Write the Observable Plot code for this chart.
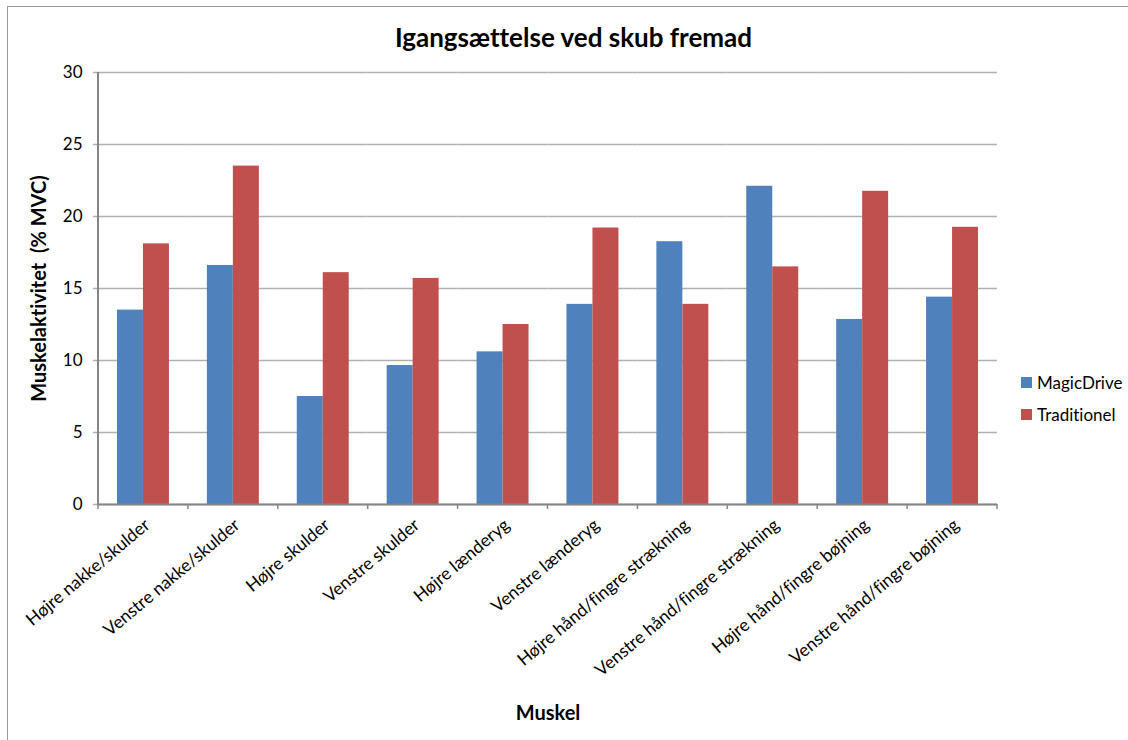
<!DOCTYPE html>
<html>
<head>
<meta charset="utf-8">
<script src="https://cdn.jsdelivr.net/npm/d3@7"></script>
<script src="https://cdn.jsdelivr.net/npm/@observablehq/plot@0.6"></script>
<style>
  body { margin: 0; background: #fff; font-family: Lato, "Open Sans", sans-serif; font-variant-ligatures: none; }
  #wrap { position: relative; width: 1128px; height: 740px; overflow: hidden; background: #fff; }
  #border { position: absolute; left: 7px; top: 6px; width: 1140px; height: 760px; border: 1px solid #9a9a9a; box-sizing: border-box; pointer-events: none; }
  #title { height: 60px; box-sizing: border-box; padding-top: 15px; padding-left: 19px; line-height: 44px; text-align: center; font-weight: bold; font-size: 26px; color: #000; }
  #chart svg { display: block; font-variant-ligatures: none; }
  #legend { position: absolute; left: 1021px; top: 366px; font-size: 17px; color: #000; }
  #legend .row { display: flex; align-items: center; height: 32.5px; }
  #legend .sw { width: 11px; height: 11px; margin-right: 5px; }
</style>
</head>
<body>
<div id="wrap">
  <div id="title">Igangsættelse ved skub fremad</div>
  <div id="chart"></div>
  <div id="legend"></div>
  <div id="border"></div>
</div>
<script>
const categories = [
  "Højre nakke/skulder",
  "Venstre nakke/skulder",
  "Højre skulder",
  "Venstre skulder",
  "Højre lænderyg",
  "Venstre lænderyg",
  "Højre hånd/fingre strækning",
  "Venstre hånd/fingre strækning",
  "Højre hånd/fingre bøjning",
  "Venstre hånd/fingre bøjning"
];
const seriesNames = ["MagicDrive", "Traditionel"];
const magicDrive = [13.5, 16.6, 7.5, 9.65, 10.6, 13.9, 18.25, 22.1, 12.85, 14.4];
const traditionel = [18.1, 23.5, 16.1, 15.7, 12.5, 19.2, 13.9, 16.5, 21.75, 19.25];
const yTicks = [0, 5, 10, 15, 20, 25, 30];
const seriesColors = ["#4F81BD", "#C0504D"];
const yLabel = "Muskelaktivitet  (% MVC)";
const xLabel = "Muskel";

const rows = categories.flatMap((c, i) => [
  {muskel: c, serie: seriesNames[0], value: magicDrive[i]},
  {muskel: c, serie: seriesNames[1], value: traditionel[i]}
]);

const chart = Plot.plot({
  width: 1128,
  height: 680,
  marginLeft: 98,
  marginRight: 131,
  marginTop: 12,
  marginBottom: 236,
  style: {fontFamily: "Lato, 'Open Sans', sans-serif", fontSize: "17px", color: "#000", background: "transparent", overflow: "visible"},
  fx: {domain: categories, padding: 0, round: false, label: null},
  x: {domain: seriesNames, paddingInner: 0, paddingOuter: 0.73, round: false, axis: null},
  y: {domain: [0, 30], label: null},
  color: {domain: seriesNames, range: seriesColors},
  marks: [
    Plot.gridY(yTicks, {stroke: "#b0b0b0", strokeOpacity: 1, strokeWidth: 1.5}),
    Plot.barY(rows, {fx: "muskel", x: "serie", y: "value", fill: "serie", inset: 0}),
    Plot.ruleY([0], {stroke: "#868686", strokeWidth: 2}),
    Plot.axisY(yTicks, {tickSize: 5, tickPadding: 11, stroke: "#b0b0b0", strokeWidth: 1.5, label: yLabel, labelAnchor: "center", labelOffset: 67, labelArrow: "none"}),
    Plot.axisFx({anchor: "bottom", tickRotate: -40, tickSize: 0, tickPadding: 18, dx: 4, fontSize: 17.5, label: xLabel, labelAnchor: "center", labelOffset: 215, labelArrow: "none"})
  ]
});
document.getElementById("chart").appendChild(chart);

// axis lines and category tick marks, from Plot's own scales
const svg = d3.select(chart);
const fx = chart.scale("fx");
const y = chart.scale("y");
const y0 = y.apply(0), yTop = y.apply(30);
const edges = categories.map(c => fx.apply(c)).concat([fx.apply(categories[categories.length - 1]) + fx.bandwidth]);
svg.append("g").selectAll("line").data(edges).join("line")
  .attr("x1", d => d).attr("x2", d => d)
  .attr("y1", y0).attr("y2", y0 + 5)
  .attr("stroke", "#868686").attr("stroke-width", 1.5);
svg.append("line")
  .attr("x1", edges[0]).attr("x2", edges[0])
  .attr("y1", yTop).attr("y2", y0 + 1)
  .attr("stroke", "#868686").attr("stroke-width", 2);

svg.selectAll('[aria-label="y-axis label"] text, [aria-label="fx-axis label"] text')
  .attr("font-weight", "bold").attr("font-size", 20);

// legend
const color = chart.scale("color");
const lg = d3.select("#legend");
const row = lg.selectAll("div.row").data(color.domain).join("div").attr("class", "row");
row.append("div").attr("class", "sw").style("background", d => color.apply(d));
row.append("span").text(d => d);
</script>
</body>
</html>
